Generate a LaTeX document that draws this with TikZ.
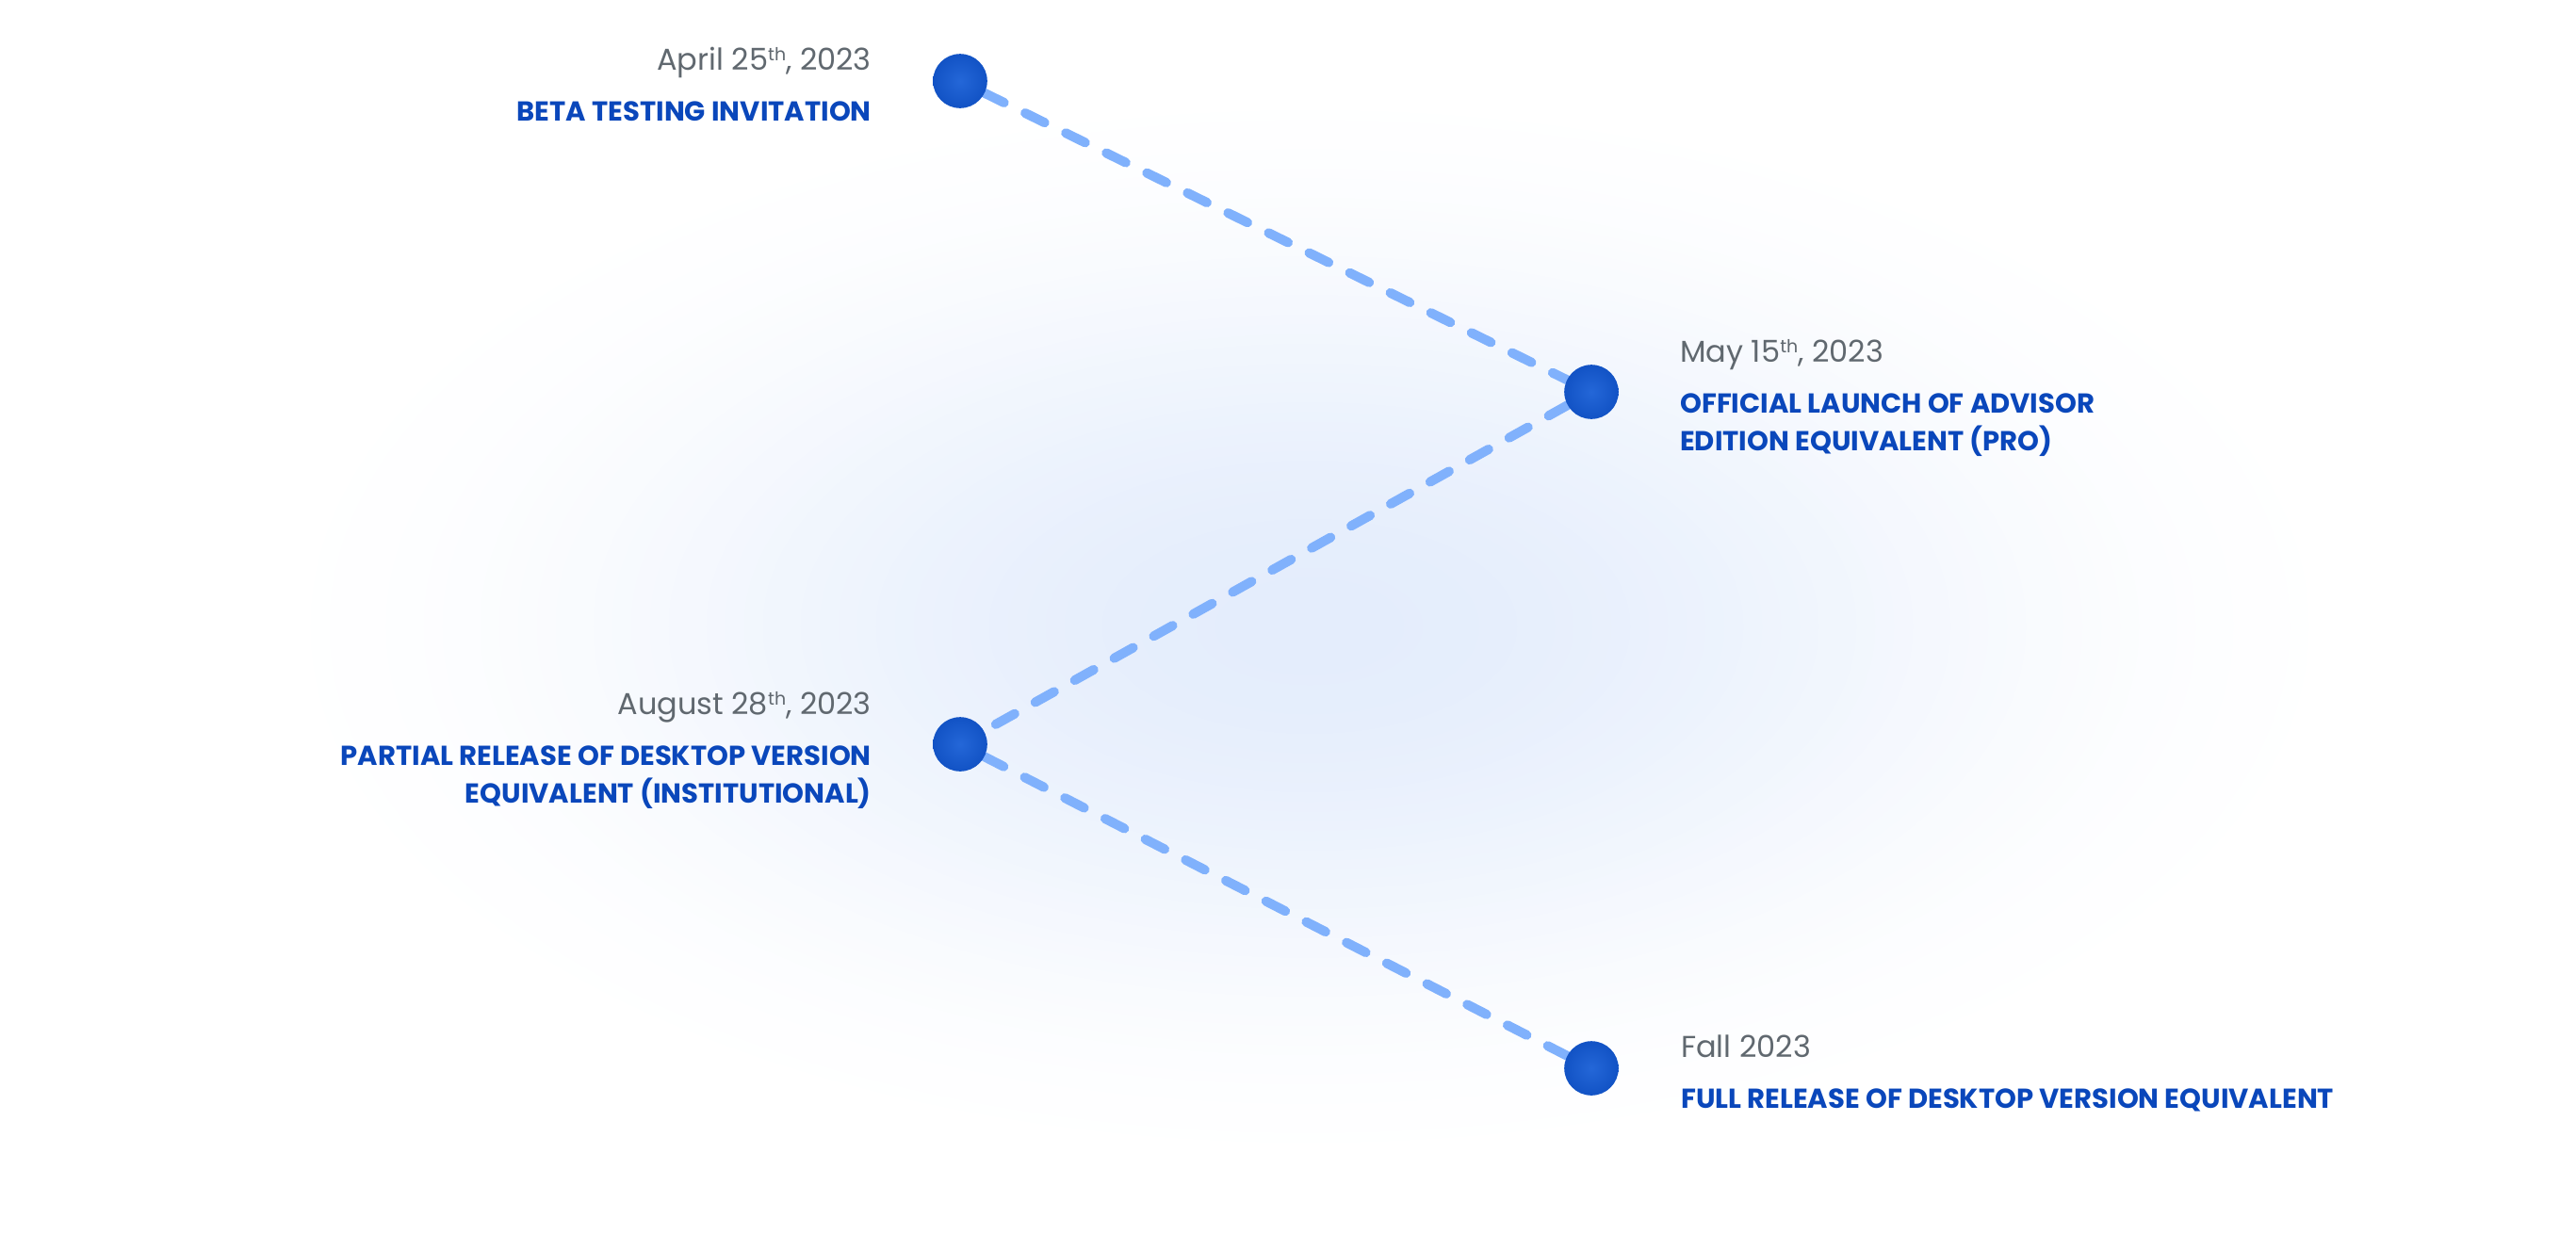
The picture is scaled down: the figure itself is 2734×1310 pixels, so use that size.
\documentclass[tikz,border=0pt]{standalone}
\usepackage{fontspec}
\setmainfont{Poppins}
\pgfdeclarelayer{background}
\pgfsetlayers{background,main}
\definecolor{glowc}{HTML}{E4EDFC}
\definecolor{dotin}{HTML}{2467D8}
\definecolor{dotout}{HTML}{0443B6}
\definecolor{dashc}{HTML}{80B1FC}
\definecolor{dategray}{HTML}{60686F}
\definecolor{titleblue}{HTML}{0A47BB}
\pgfdeclareradialshading{dotshade}{\pgfpoint{0bp}{0bp}}{color(0bp)=(dotin); color(44bp)=(dotout); color(50bp)=(dotout)}
\tikzset{
  dot/.style={circle, minimum size=57.6pt, inner sep=0pt, shading=dotshade},
  conn/.style={dashc, line width=10pt, line cap=round, dash pattern=on 23pt off 25pt},
  datelbl/.style={inner sep=0pt, text=dategray, font=\fontsize{32}{38}\selectfont},
  titlelbl/.style={inner sep=0pt, text=titleblue, font=\bfseries\fontsize{29.1}{40}\selectfont},
}
\newcommand{\ordsup}[1]{\raisebox{10pt}{\fontsize{19}{19}\selectfont #1}}
\begin{document}
\begin{tikzpicture}[x=1pt, y=-1pt]
\useasboundingbox (0,0) rectangle (2734,1310);
\begin{pgfonlayer}{background}
\fill[white] (0,0) rectangle (2734,1310);
\foreach \i in {0,...,60}{
  \pgfmathsetmacro\rr{1-\i/60}
  \pgfmathsetmacro\pp{100*(1-\rr*\rr)^2.6}
  \fill[glowc!\pp!white] (1390,665) ellipse [x radius={1200*\rr}, y radius={620*\rr}];
}
\end{pgfonlayer}

\node[dot] (n1) at (1019,86) {};
\node[dot] (n2) at (1689,416) {};
\node[dot] (n3) at (1019,790) {};
\node[dot] (n4) at (1689,1134) {};

\begin{pgfonlayer}{background}
\draw[conn] (n1) -- (n2);
\draw[conn] (n2) -- (n3);
\draw[conn] (n3) -- (n4);
\end{pgfonlayer}

\node[datelbl, anchor=base east] (d1) at (925,74) {April 25\ordsup{th}, 2023};
\node[titlelbl, anchor=base east] (t1) at (925,128) {BETA TESTING INVITATION};

\node[datelbl, anchor=base west] (d2) at (1783,384) {May 15\ordsup{th}, 2023};
\node[titlelbl, anchor=base west] (t2a) at (1783,438) {OFFICIAL LAUNCH OF ADVISOR};
\node[titlelbl, anchor=base west] (t2b) at (1783,478) {EDITION EQUIVALENT (PRO)};

\node[datelbl, anchor=base east] (d3) at (925,758) {August 28\ordsup{th}, 2023};
\node[titlelbl, anchor=base east] (t3a) at (925,812) {PARTIAL RELEASE OF DESKTOP VERSION};
\node[titlelbl, anchor=base east] (t3b) at (925,852) {EQUIVALENT (INSTITUTIONAL)};

\node[datelbl, anchor=base west] (d4) at (1784,1122) {Fall 2023};
\node[titlelbl, anchor=base west] (t4) at (1784,1176) {FULL RELEASE OF DESKTOP VERSION EQUIVALENT};
\end{tikzpicture}
\end{document}
